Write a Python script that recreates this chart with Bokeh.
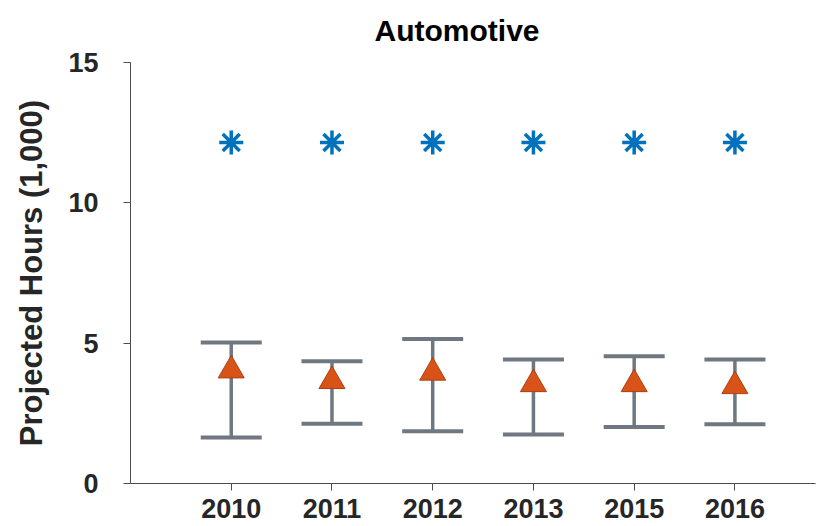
from bokeh.plotting import figure
from bokeh.models import ColumnDataSource, Whisker, TeeHead, Range1d, FixedTicker, Title
from bokeh.embed import file_html
from bokeh.resources import INLINE

years = ["2010", "2011", "2012", "2013", "2015", "2016"]
positions = [1, 2, 3, 4, 5, 6]
projected = [4.03, 3.65, 3.95, 3.54, 3.54, 3.47]
upper = [5.02, 4.36, 5.15, 4.42, 4.53, 4.42]
lower = [1.64, 2.13, 1.86, 1.75, 2.01, 2.11]
reference = [12.15, 12.15, 12.15, 12.15, 12.15, 12.15]
y_ticks = [0, 5, 10, 15]
title_text = "Automotive"

src = ColumnDataSource(dict(x=positions, y=projected, upper=upper, lower=lower, ref=reference))

FONT = "Liberation Sans"
TXT = "#262626"
AX = "#4d4d4d"
GRAY = "#6f7780"

p = figure(width=821, height=526, output_backend="svg", toolbar_location=None,
           x_range=Range1d(0, 6.8), y_range=Range1d(0, 15),
           min_border_left=130, min_border_right=6, min_border_top=62, min_border_bottom=43)
p.outline_line_color = None
p.grid.grid_line_color = None
p.background_fill_color = "white"

title = Title(text=title_text, text_font=FONT, text_font_size="30px",
              text_font_style="bold", text_color="#000000",
              align="left", offset=244, standoff=27, vertical_align="top")
p.add_layout(title, "above")

whisk = Whisker(base="x", upper="upper", lower="lower", source=src,
                line_color=GRAY, line_width=3.5,
                upper_head=TeeHead(size=61, line_color=GRAY, line_width=4),
                lower_head=TeeHead(size=61, line_color=GRAY, line_width=4))
p.add_layout(whisk)

p.scatter("x", "y", source=src, marker="triangle", size=26,
          fill_color="#D95319", line_color="#A8400F", line_width=1)
p.scatter("x", "ref", source=src, marker="asterisk", size=24,
          line_color="#0072BD", line_width=3.5)

p.xaxis.ticker = FixedTicker(ticks=positions)
p.xaxis.major_label_overrides = {pos: yr for pos, yr in zip(positions, years)}
p.yaxis.ticker = FixedTicker(ticks=y_ticks)

for ax in (p.xaxis, p.yaxis):
    ax.axis_line_color = AX
    ax.axis_line_width = 1
    ax.major_tick_line_color = AX
    ax.major_tick_in = 0
    ax.major_tick_out = 7
    ax.minor_tick_line_color = None
    ax.major_label_text_font = FONT
    ax.major_label_text_font_style = "bold"
    ax.major_label_text_font_size = "27px"
    ax.major_label_text_color = TXT

p.xaxis.major_label_standoff = 8
p.yaxis.major_label_standoff = 25

p.yaxis.axis_label = "Projected Hours (1,000)"
p.yaxis.axis_label_text_font = FONT
p.yaxis.axis_label_text_font_style = "bold"
p.yaxis.axis_label_text_font_size = "31px"
p.yaxis.axis_label_text_color = TXT
p.yaxis.axis_label_standoff = 16

open("out.html", "w").write(file_html(p, INLINE))
